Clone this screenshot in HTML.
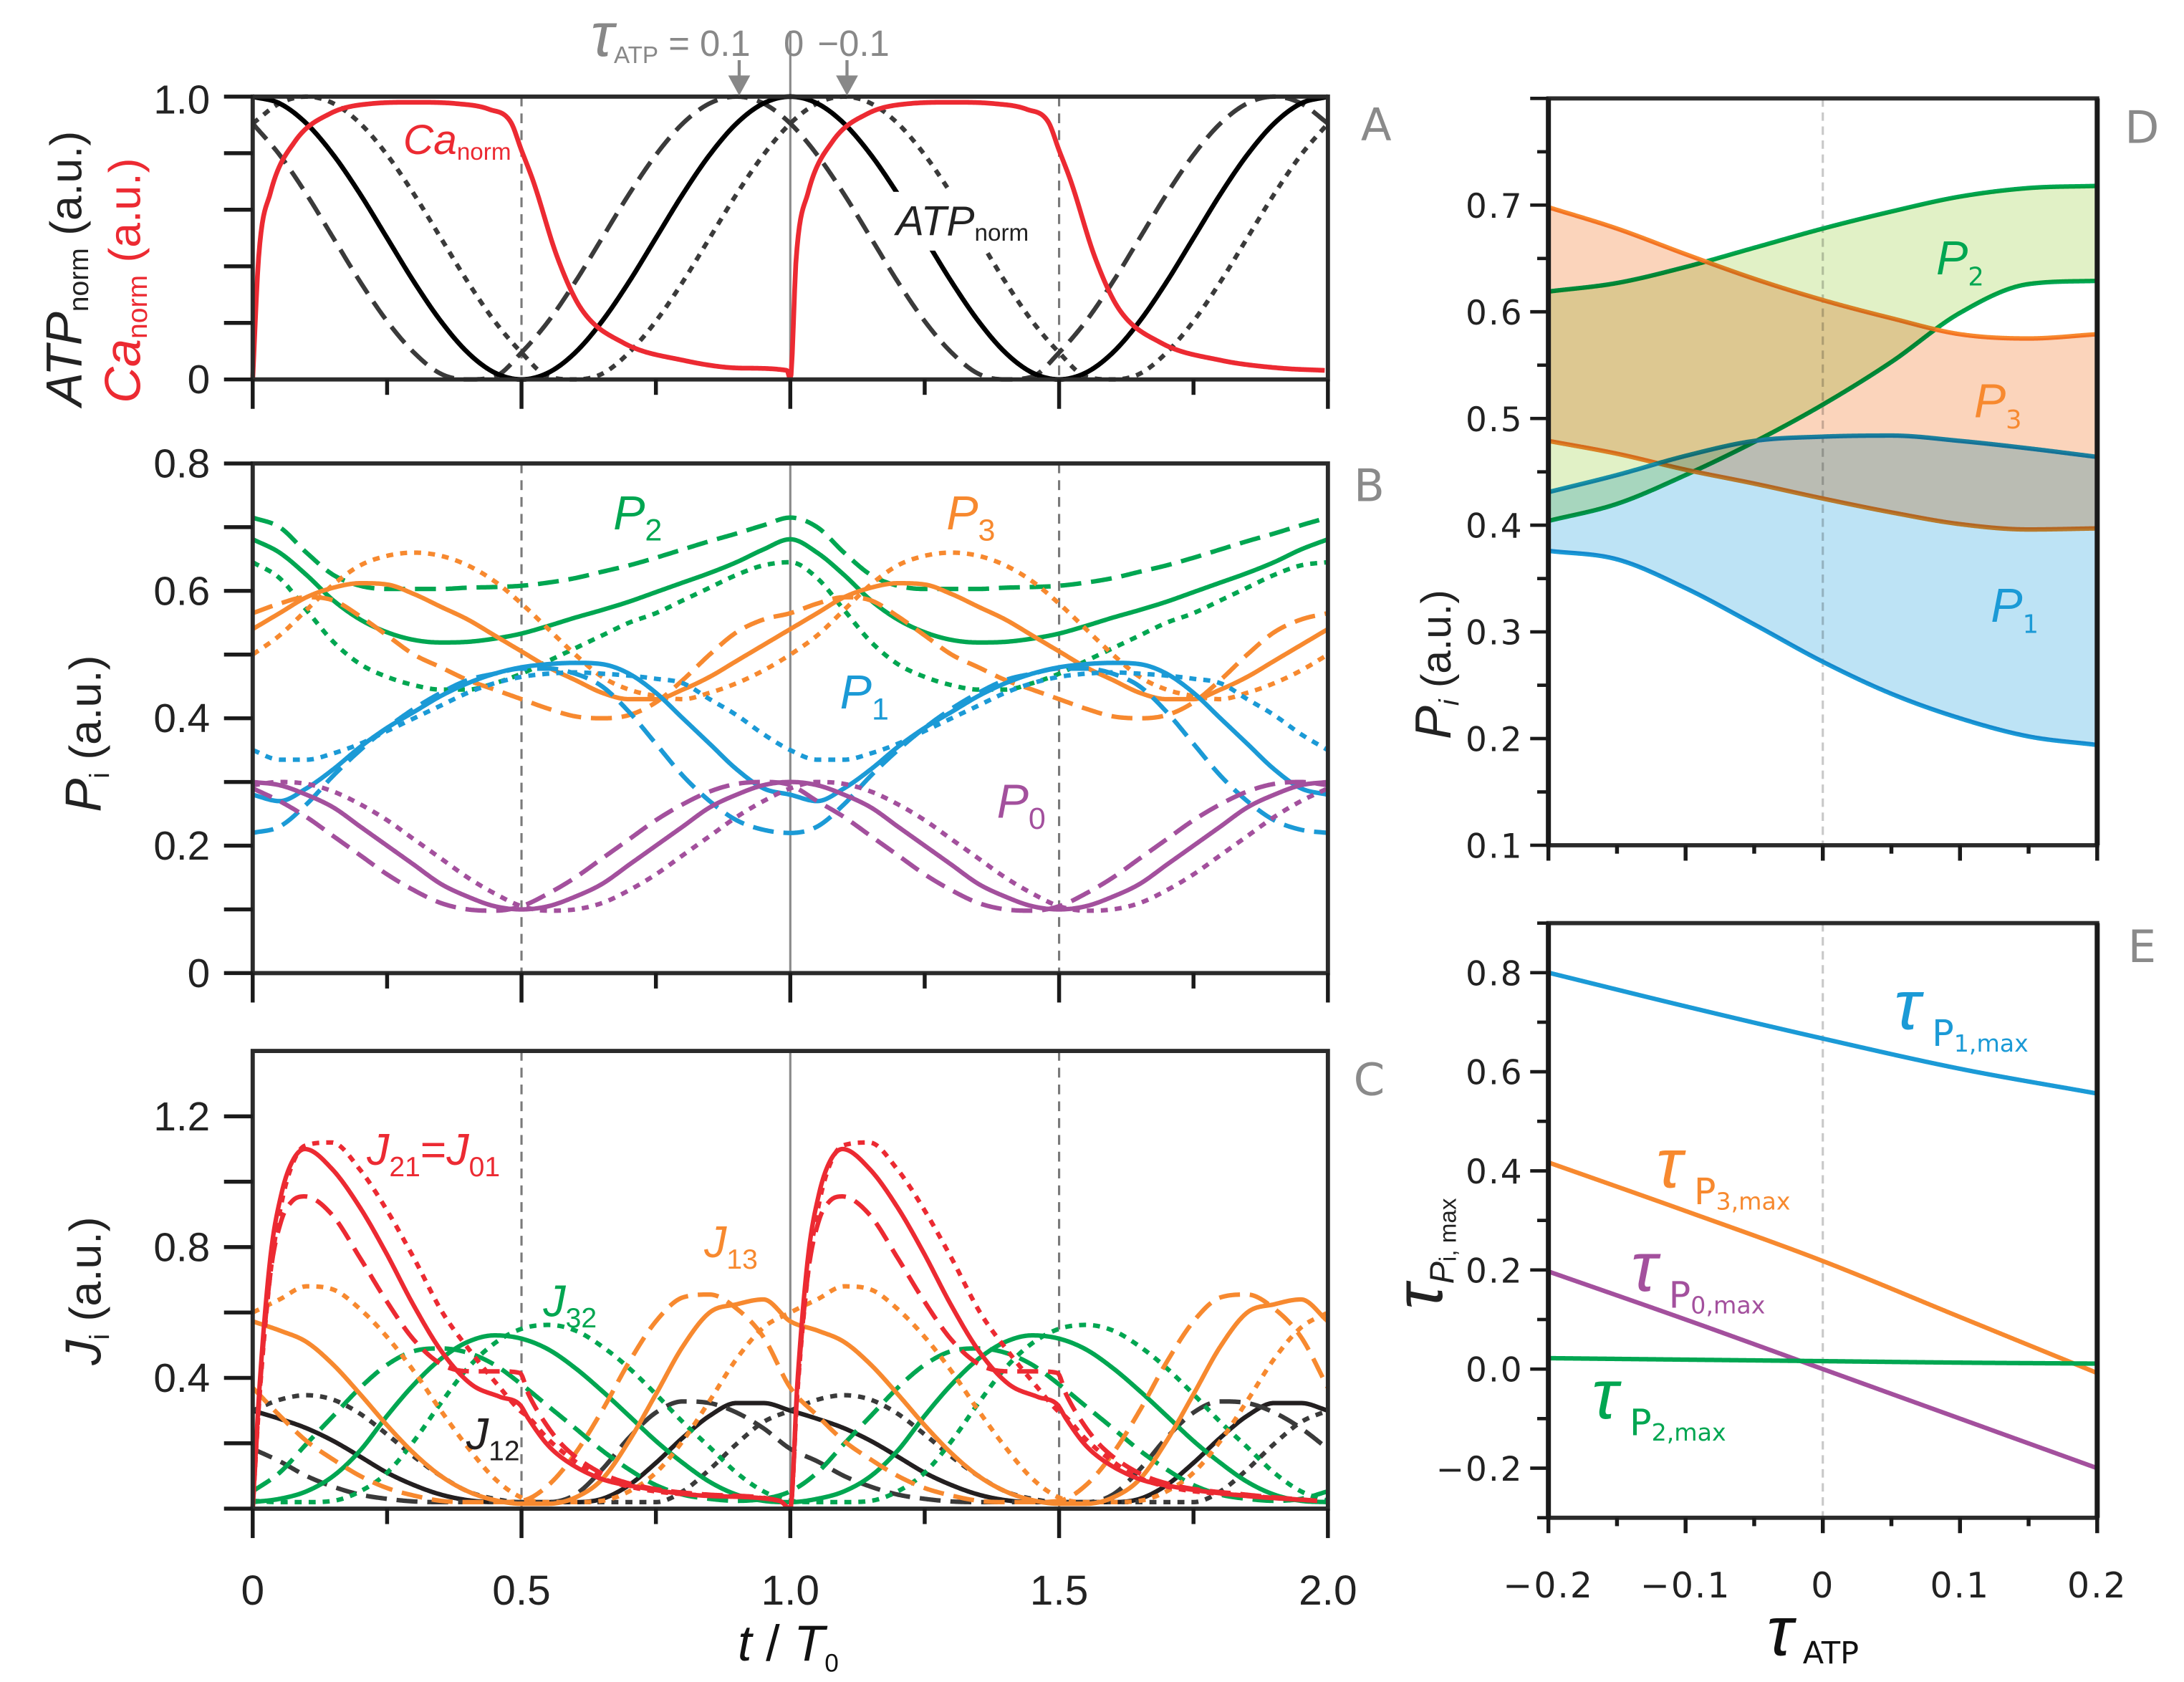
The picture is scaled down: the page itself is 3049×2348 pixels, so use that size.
<!DOCTYPE html>
<html><head><meta charset="utf-8">
<style>
html,body{margin:0;padding:0;background:#fff;}
svg{display:block;}
text{font-family:"Liberation Sans Narrow","Liberation Sans",sans-serif;}
.wide{font-family:"DejaVu Sans","Liberation Sans",sans-serif;}
</style></head>
<body>
<svg id="fig" xmlns="http://www.w3.org/2000/svg" width="3049" height="2348" viewBox="0 0 1560 1201.3" preserveAspectRatio="none">
<g id="g-lines"></g>
<g id="g-frames"></g>
<g id="g-text"></g>
</svg>
<script>
// ---------- Panel A data (one period, t in [0,1]) ----------
const tStep = [0,.05,.1,.15,.2,.25,.3,.35,.4,.45,.5,.55,.6,.65,.7,.75,.8,.85,.9,.95,1];
const atpSolid  = [1,.976,.905,.794,.655,.5,.345,.206,.095,.024,0,.024,.095,.206,.345,.5,.655,.794,.905,.976,1];
const atpDashed = [.905,.794,.655,.5,.345,.206,.095,.02,0,.01,.095,.206,.345,.5,.655,.794,.905,.976,1,.976,.905];
const atpDotted = [.905,.976,1,.976,.905,.794,.655,.5,.345,.206,.095,.01,0,.02,.095,.206,.345,.5,.655,.794,.905];
const caT = [0,.011,.033,.078,.144,.22,.3,.38,.44,.48,.5,.522,.567,.611,.689,.8,.911,.994];
const caV = [0,.43,.66,.84,.94,.975,.98,.975,.955,.91,.81,.70,.43,.25,.13,.068,.04,.032];
// ---------- Panel B data ----------
const p2Solid  = [.681,.66,.625,.585,.555,.535,.523,.519,.52,.525,.533,.545,.558,.57,.583,.598,.613,.628,.645,.665,.681];
const p2Dashed = [.715,.70,.66,.625,.608,.603,.603,.603,.605,.606,.608,.613,.62,.63,.64,.652,.665,.678,.69,.703,.715];
const p2Dotted = [.645,.62,.57,.52,.485,.465,.452,.445,.445,.455,.47,.49,.51,.53,.55,.565,.585,.605,.625,.64,.645];
const p3Solid  = [.54,.565,.59,.605,.612,.61,.595,.575,.555,.53,.505,.48,.46,.44,.43,.43,.445,.465,.49,.515,.54];
const p3Dashed = [.565,.58,.59,.585,.56,.53,.5,.48,.46,.445,.43,.415,.403,.40,.405,.425,.46,.5,.535,.555,.565];
const p3Dotted = [.50,.53,.57,.61,.64,.655,.66,.655,.64,.615,.58,.54,.5,.465,.445,.435,.43,.44,.455,.475,.50];
const p1Solid  = [.28,.27,.29,.32,.355,.385,.41,.435,.455,.47,.48,.485,.487,.485,.47,.44,.40,.36,.32,.29,.28];
const p1Dashed = [.22,.23,.265,.31,.35,.385,.415,.44,.46,.47,.478,.478,.47,.45,.41,.36,.31,.27,.24,.225,.22];
const p1Dotted = [.35,.335,.335,.345,.36,.38,.40,.42,.44,.455,.465,.47,.472,.47,.467,.462,.455,.43,.405,.375,.35];
const p0Solid  = [.30,.295,.28,.26,.23,.20,.17,.14,.12,.105,.10,.105,.12,.14,.17,.20,.23,.26,.28,.295,.30];
const p0Dashed = [.29,.27,.245,.215,.185,.155,.13,.11,.10,.098,.105,.125,.15,.18,.21,.24,.265,.285,.297,.30,.295];
const p0Dotted = [.295,.30,.297,.285,.265,.24,.21,.18,.15,.125,.105,.098,.10,.11,.13,.155,.185,.215,.245,.27,.29];
// ---------- Panel C data ----------
const jRedT      = [0,.013,.033,.053,.073,.097,.147,.2,.247,.3,.353,.407,.46,.497,.513,.547,.58,.647,.713,.847,.98];
const j21Solid   = [0,.38,.77,.96,1.06,1.10,1.04,.92,.786,.62,.477,.38,.342,.318,.275,.198,.15,.092,.067,.039,.024];
const j21Dashed  = [0,.36,.72,.88,.94,.955,.90,.766,.64,.516,.44,.42,.42,.415,.35,.255,.188,.11,.072,.043,.024];
const j21Dotted  = [0,.35,.72,.93,1.05,1.11,1.12,1.036,.92,.766,.60,.477,.37,.30,.28,.217,.169,.096,.063,.04,.024];
const j13Solid   = [.573,.545,.51,.44,.35,.255,.169,.10,.053,.026,.015,.015,.034,.09,.207,.35,.496,.60,.625,.64,.573];
const j13Dashed  = [.37,.285,.207,.15,.10,.063,.04,.024,.02,.02,.024,.072,.169,.30,.448,.573,.646,.655,.612,.525,.37];
const j13Dotted  = [.60,.64,.68,.67,.61,.525,.42,.30,.188,.092,.034,.02,.02,.024,.053,.11,.207,.33,.458,.554,.60];
const j32Solid   = [.02,.03,.053,.10,.178,.284,.38,.458,.51,.53,.52,.487,.43,.36,.284,.207,.14,.082,.043,.024,.02];
const j32Dashed  = [.053,.11,.198,.284,.37,.44,.482,.49,.477,.44,.38,.313,.246,.178,.12,.072,.043,.03,.024,.03,.053];
const j32Dotted  = [.024,.02,.02,.024,.053,.11,.207,.323,.43,.506,.55,.562,.545,.496,.43,.35,.265,.188,.11,.053,.024];
const j12Solid   = [.30,.275,.246,.207,.159,.11,.072,.043,.026,.02,.02,.02,.02,.03,.072,.14,.217,.284,.323,.323,.30];
const j12Dashed  = [.183,.145,.10,.067,.043,.03,.022,.02,.02,.02,.02,.02,.043,.12,.217,.294,.328,.323,.294,.246,.183];
const j12Dotted  = [.30,.333,.347,.333,.29,.227,.159,.10,.053,.03,.02,.02,.02,.02,.02,.02,.053,.12,.198,.265,.30];
// ---------- Panel D data ----------
const tauD = [-.2,-.15,-.1,-.05,0,.05,.1,.15,.2];
const p2Up = [.619,.627,.642,.66,.678,.694,.708,.716,.718];
const p2Lo = [.404,.42,.447,.478,.513,.553,.599,.626,.629];
const p3Up = [.698,.678,.654,.631,.611,.594,.579,.575,.579];
const p3Lo = [.479,.467,.452,.439,.425,.412,.401,.396,.397];
const p1Up = [.431,.447,.465,.479,.483,.484,.479,.472,.464];
const p1Lo = [.376,.368,.341,.307,.272,.242,.219,.202,.194];
// ---------- Panel E data ----------
const tauE = [-.2,-.1,0,.1,.2];
const tP1 = [.80,.732,.667,.606,.556];
const tP3 = [.417,.319,.218,.105,-.008];
const tP0 = [.197,.1,0,-.1,-.2];
const tP2 = [.022,.019,.016,.013,.011];
const xTicksLeft = ["0","0.5","1.0","1.5","2.0"];
const xTicksRight = ["\u22120.2","\u22120.1","0","0.1","0.2"];

const NS="http://www.w3.org/2000/svg";
const gL=document.getElementById('g-lines'), gF=document.getElementById('g-frames'), gT=document.getElementById('g-text');
function el(tag,attrs,parent){const e=document.createElementNS(NS,tag);for(const k in attrs)e.setAttribute(k,attrs[k]);parent.appendChild(e);return e;}

const tx=t=>180.5+t*384;
const ya=v=>271-v*202, yb=v=>695-v*455, yc=v=>1077.5-v*233.5;
const dx=t=>1302+t*980, dy=v=>603.7-(v-0.1)*762, ey=v=>977.8-v*353.9;

function mono(xs,ys){
  const n=xs.length,d=[],m=new Array(n).fill(0);
  for(let i=0;i<n-1;i++)d[i]=(ys[i+1]-ys[i])/(xs[i+1]-xs[i]);
  m[0]=d[0];m[n-1]=d[n-2];
  for(let i=1;i<n-1;i++)m[i]=(d[i-1]*d[i]<=0)?0:(d[i-1]+d[i])/2;
  for(let i=0;i<n-1;i++){if(d[i]===0){m[i]=0;m[i+1]=0;continue;}
    const a=m[i]/d[i],b=m[i+1]/d[i],s=a*a+b*b;if(s>9){const q=3/Math.sqrt(s);m[i]=q*a*d[i];m[i+1]=q*b*d[i];}}
  return x=>{let i=0;while(i<n-2&&x>xs[i+1])i++;const h=xs[i+1]-xs[i],t=(x-xs[i])/h,t2=t*t,t3=t2*t;
    return (2*t3-3*t2+1)*ys[i]+(t3-2*t2+t)*h*m[i]+(-2*t3+3*t2)*ys[i+1]+(t3-t2)*h*m[i+1];};
}
function samples(xs,ys,sx,sy,N){const f=mono(xs,ys),a=xs[0],b=xs[xs.length-1],pts=[];
  for(let k=0;k<=N;k++){const x=a+(b-a)*k/N;pts.push([sx(x),sy(f(x))]);}return pts;}
function periodic(ts,vs,closeEnd){const X=[],Y=[];for(let k=0;k<2;k++){ts.forEach((t,i)=>{if(k===1&&i===0&&closeEnd)return;X.push(t+k);Y.push(vs[i]);});}return [X,Y];}
const DASH={solid:null,dashed:"15,7",dotted:"5,5"};
function drawSeries(name,X,Y,sx,sy,color,style,w){
  const pts=samples(X,Y,sx,sy,900);
  const p=el('path',{d:'M'+pts.map(p=>p[0].toFixed(2)+','+p[1].toFixed(2)).join('L'),fill:'none',stroke:color,'stroke-width':w||3.2,'stroke-linejoin':'round'},gL);
  if(DASH[style])p.setAttribute('stroke-dasharray',DASH[style]);
  
  
}
const GREEN="#00a651",ORANGE="#f7892f",BLUE="#1b9ad6",PURPLE="#a3509d",RED="#ec2a32",BLACK="#231f20",DGRAY="#3a3a3a";

[[69,271],[331,695],[750.6,1077.5]].forEach((r,i)=>{
  [0.5,1.5].forEach(t=>{const l=el('line',{x1:tx(t),x2:tx(t),y1:r[0],y2:r[1],stroke:'#7a7a7a','stroke-width':1.6,'stroke-dasharray':'7,5'},gL);
    });
  const l=el('line',{x1:tx(1),x2:tx(1),y1:i===0?22:r[0],y2:r[1],stroke:'#8a8a8a','stroke-width':1.6},gL);
  
});
[[70.3,603.7],[659.3,1084]].forEach(r=>{const l=el('line',{x1:dx(0),x2:dx(0),y1:r[0],y2:r[1],stroke:'#c8c8c8','stroke-width':1.6,'stroke-dasharray':'6,4'},gL);
  });

{let [X,Y]=periodic(tStep,atpDashed,true);drawSeries('atp-dashed',X,Y,tx,ya,DGRAY,'dashed');
 [X,Y]=periodic(tStep,atpDotted,true);drawSeries('atp-dotted',X,Y,tx,ya,DGRAY,'dotted');
 [X,Y]=periodic(tStep,atpSolid,true);drawSeries('atp-solid',X,Y,tx,ya,'#000','solid',3.4);
 [X,Y]=periodic(caT,caV,false);drawSeries('ca-norm-line',X,Y,tx,ya,RED,'solid',3.4);}
[[p2Solid,'solid',GREEN,'p2'],[p2Dashed,'dashed',GREEN,'p2'],[p2Dotted,'dotted',GREEN,'p2'],
 [p3Solid,'solid',ORANGE,'p3'],[p3Dashed,'dashed',ORANGE,'p3'],[p3Dotted,'dotted',ORANGE,'p3'],
 [p1Solid,'solid',BLUE,'p1'],[p1Dashed,'dashed',BLUE,'p1'],[p1Dotted,'dotted',BLUE,'p1'],
 [p0Solid,'solid',PURPLE,'p0'],[p0Dashed,'dashed',PURPLE,'p0'],[p0Dotted,'dotted',PURPLE,'p0']].forEach(s=>{
  const [X,Y]=periodic(tStep,s[0],true);drawSeries(s[3]+'-'+s[1],X,Y,tx,yb,s[2],s[1]);});
[[j12Solid,'solid',BLACK,'j12'],[j12Dashed,'dashed',DGRAY,'j12'],[j12Dotted,'dotted',DGRAY,'j12'],
 [j32Solid,'solid',GREEN,'j32'],[j32Dashed,'dashed',GREEN,'j32'],[j32Dotted,'dotted',GREEN,'j32'],
 [j13Solid,'solid',ORANGE,'j13'],[j13Dashed,'dashed',ORANGE,'j13'],[j13Dotted,'dotted',ORANGE,'j13']].forEach(s=>{
  const [X,Y]=periodic(tStep,s[0],true);drawSeries(s[3]+'-'+s[1],X,Y,tx,yc,s[2],s[1]);});
[[j21Solid,'solid'],[j21Dashed,'dashed'],[j21Dotted,'dotted']].forEach(s=>{
  const [X,Y]=periodic(jRedT,s[0],false);drawSeries('j21-'+s[1],X,Y,tx,yc,RED,s[1]);});

[[p2Up,GREEN,'p2-upper'],[p2Lo,GREEN,'p2-lower'],[p3Up,ORANGE,'p3-upper'],[p3Lo,ORANGE,'p3-lower'],[p1Up,BLUE,'p1-upper'],[p1Lo,BLUE,'p1-lower']].forEach(s=>{
  drawSeries(s[2]+'-line',tauD,s[0],dx,dy,s[1],'solid',3.2);});
[[p2Up,p2Lo,'#e1f1c6','p2-band'],[p3Up,p3Lo,'#fbd4bb','p3-band'],[p1Up,p1Lo,'#bde3f5','p1-band']].forEach(s=>{
  const a=samples(tauD,s[0],dx,dy,300),b=samples(tauD,s[1],dx,dy,300).reverse();
  const pg=el('path',{d:'M'+a.concat(b).map(p=>p[0].toFixed(2)+','+p[1].toFixed(2)).join('L')+'Z',fill:s[2],style:'mix-blend-mode:multiply'},gL);
  
  
});
[[tP1,BLUE,'tau-p1-max'],[tP3,ORANGE,'tau-p3-max'],[tP0,PURPLE,'tau-p0-max'],[tP2,GREEN,'tau-p2-max']].forEach(s=>{
  drawSeries(s[2]+'-line',tauE,s[0],dx,ey,s[1],'solid',3.2);});

function frame(name,x0,x1,y0,y1,w){const r=el('rect',{x:x0,y:y0,width:x1-x0,height:y1-y0,fill:'none',stroke:'#2b2b2b','stroke-width':w||3},gF);
  }
function tick(x1,y1,x2,y2,w){const l=el('line',{x1,y1,x2,y2,stroke:'#1a1a1a','stroke-width':w||2.8},gF);
  }
frame('panel-a-frame',180.5,948.5,69,271);frame('panel-b-frame',180.5,948.5,331,695);frame('panel-c-frame',180.5,948.5,750.6,1077.5);
frame('panel-d-frame',1106,1498,70.3,603.7);frame('panel-e-frame',1106,1498,659.3,1084);
[[70.3,603.7],[659.3,1084]].forEach(r=>{tick(1106,r[0],1106,r[1],3.6);tick(1498,r[0],1498,r[1],3.6);});
for(let v=0;v<=1.001;v+=0.2)tick(160,ya(v),180.5,ya(v));
for(let v=0;v<=0.801;v+=0.1)tick(160,yb(v),180.5,yb(v));
for(let v=0;v<=1.201;v+=0.2)tick(160,yc(v),180.5,yc(v));
[271,695,1077.5].forEach(yy=>{for(let k=0;k<=8;k++){const t=k*0.25;tick(tx(t),yy,tx(t),yy+(k%2===0?21:11));}});
for(let k=0;k<=14;k++){const v=0.1+k*0.05;tick(k%2===0?1093:1098,dy(v),1106,dy(v),2.4);}
for(let k=0;k<=12;k++){const v=-0.3+k*0.1;tick(k%2===1?1093:1098,ey(v),1106,ey(v),2.4);}
[603.7,1084].forEach(yy=>{for(let k=0;k<=8;k++){const t=-0.2+k*0.05;tick(dx(t),yy,dx(t),yy+(k%2===0?11:6),2.8);}});

function txt(name,x,y,s,size,color,anchor,extra){const t=el('text',Object.assign({x,y,'font-size':size,fill:color||'#111','text-anchor':anchor||'start'},extra||{}),gT);
  t.textContent=s;return t;}
txt('a-tick-1',150,81,'1.0',29,'#222','end');txt('a-tick-0',150,281,'0',29,'#222','end');
['0','0.2','0.4','0.6','0.8'].forEach((s,i)=>txt('b-tick-'+s,150,yb(i*0.2)+10,s,29,'#222','end'));
['0.4','0.8','1.2'].forEach((s,i)=>txt('c-tick-'+s,150,yc((i+1)*0.4)+10,s,29,'#222','end'));
xTicksLeft.forEach((s,i)=>txt('x-tick-'+s,tx(i*0.5),1146,s,30,'#222','middle'));
['0.1','0.2','0.3','0.4','0.5','0.6','0.7'].forEach((s,i)=>txt('d-tick-'+s,1088,dy(0.1+i*0.1)+9,s,24,'#222','end',{class:'wide','letter-spacing':'1'}));
['\u22120.2','0.0','0.2','0.4','0.6','0.8'].forEach((s,i)=>txt('e-tick-'+s,1088,ey(-0.2+i*0.2)+9,s,24,'#222','end',{class:'wide','letter-spacing':'1'}));
xTicksRight.forEach((s,i)=>txt('tau-tick-'+i,dx(-0.2+i*0.1),1141,s,25,'#222','middle',{class:'wide','letter-spacing':'1'}));
[['A',983,100],['B',978,358],['C',978,782],['D',1530,102],['E',1530,687]].forEach(p=>txt('panel-letter-'+p[0],p[1],p[2],p[0],32,'#8a8a8a','middle',{class:'wide'}));
</script>
<script>
const gT2=document.getElementById('g-text');
function rich(name,parts,x,y,color,anchor,rot){
  const t=document.createElementNS("http://www.w3.org/2000/svg",'text');
  t.setAttribute('x',x);t.setAttribute('y',y);t.setAttribute('fill',color);
  if(anchor)t.setAttribute('text-anchor',anchor);
  if(rot)t.setAttribute('transform','rotate(-90 '+x+' '+y+')');
  parts.forEach(p=>{const s=document.createElementNS("http://www.w3.org/2000/svg",'tspan');
    s.setAttribute('font-size',p[1]);if(p[2])s.setAttribute('dy',p[2]);if(p[3])s.setAttribute('font-style','italic');
    if(p[4])s.setAttribute('fill',p[4]);if(p[5])s.setAttribute('class',p[5]);s.textContent=p[0];t.appendChild(s);});
  
  
  gT2.appendChild(t);return t;
}
rich('tau-atp-annotation',[['\u03C4',44,0,1,'#888'],['ATP',17,5,0,'#888'],[' = 0.1',26,-5,0,'#888']],422,40,'#888');
rich('tau-atp-zero',[['0',26]],567,40,'#888','middle');
rich('tau-atp-minus',[['\u22120.1',26]],584,40,'#888');
[[528,'arrow-tau-0.1'],[605,'arrow-tau-minus-0.1']].forEach(a=>{
  const g=document.createElementNS("http://www.w3.org/2000/svg",'path');
  g.setAttribute('d','M'+a[0]+',43 L'+a[0]+',58 M'+(a[0]-6)+',55 L'+a[0]+',66 L'+(a[0]+6)+',55 Z');
  g.setAttribute('stroke','#888');g.setAttribute('stroke-width','2.2');g.setAttribute('fill','#888');
  
  
  gT2.appendChild(g);});
rich('ca-norm-label',[['Ca',30,0,1],['norm',17,4]],288,110,'#ec2a32');
{const r=document.createElementNS("http://www.w3.org/2000/svg",'rect');r.setAttribute('x',632);r.setAttribute('y',137);r.setAttribute('width',118);r.setAttribute('height',42);r.setAttribute('fill','#fff');
 
 
 gT2.appendChild(r);}
rich('atp-norm-label',[['ATP',30,0,1],['norm',17,4]],640,168,'#222');
rich('a-y-title-atp',[['ATP',36,0,1],['norm',20,5],[' (a.u.)',32,-5]],58,290,'#222',null,true);
rich('a-y-title-ca',[['Ca',36,0,1],['norm',20,5],[' (a.u.)',32,-5]],100,288,'#ec2a32',null,true);
rich('b-y-title',[['P',36,0,1],['i',20,6],[' (a.u.)',32,-6]],72,580,'#222',null,true);
rich('p2-label',[['P',34,0,1],['2',22,8]],438,378,'#00a651');
rich('p3-label',[['P',34,0,1],['3',22,8]],676,378,'#f7892f');
rich('p1-label',[['P',34,0,1],['1',22,8]],600,506,'#1b9ad6');
rich('p0-label',[['P',34,0,1],['0',22,8]],712,584,'#a3509d');
rich('c-y-title',[['J',36,0,1],['i',20,6],[' (a.u.)',32,-6]],72,975,'#222',null,true);
rich('j21-label',[['J',32,0,1],['21',20,8],['=',32,-8],['J',32,0,1],['01',20,8]],262,832,'#ec2a32');
rich('j32-label',[['J',32,0,1],['32',20,8]],388,940,'#00a651');
rich('j13-label',[['J',32,0,1],['13',20,8]],503,898,'#f7892f');
rich('j12-label',[['J',32,0,1],['12',20,8]],333,1035,'#231f20');
rich('x-title',[['t',36,0,1],[' / ',36],['T',36,0,1],['0',18,8]],527,1186,'#111');
rich('d-y-title',[['P',36,0,1],['i',20,6,1],[' (a.u.)',30,-6]],1036,528,'#222',null,true);
rich('d-p2-label',[['P',34,0,1],['2',18,8,0,null,'wide']],1383,196,'#00a651');
rich('d-p3-label',[['P',34,0,1],['3',18,8,0,null,'wide']],1410,298,'#f7892f');
rich('d-p1-label',[['P',34,0,1],['1',18,8,0,null,'wide']],1422,444,'#1b9ad6');
rich('e-y-title',[['\u03C4',48,0,1],['P',24,8,1],['i, max',17,2]],1030,935,'#222',null,true);
rich('tau-p1-label',[['\u03C4',50,0,1],[' P',26,12,0,null,'wide'],['1,max',17,4,0,null,'wide']],1353,735,'#1b9ad6');
rich('tau-p3-label',[['\u03C4',50,0,1],[' P',26,12,0,null,'wide'],['3,max',17,4,0,null,'wide']],1183,848,'#f7892f');
rich('tau-p0-label',[['\u03C4',50,0,1],[' P',26,12,0,null,'wide'],['0,max',17,4,0,null,'wide']],1165,922,'#a3509d');
rich('tau-p2-label',[['\u03C4',50,0,1],[' P',26,12,0,null,'wide'],['2,max',17,4,0,null,'wide']],1137,1013,'#00a651');
rich('tau-x-title',[['\u03C4',50,0,1],[' ATP',22,6,0,null,'wide']],1262,1182,'#111');
</script>
</body></html>
